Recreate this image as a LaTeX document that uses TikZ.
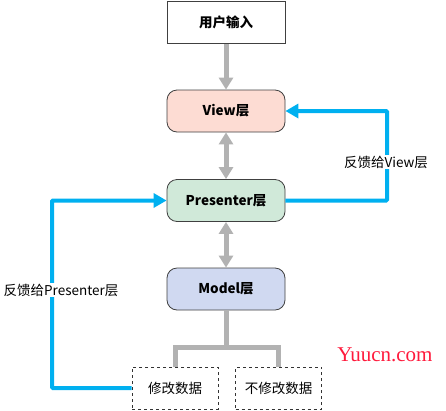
\documentclass[tikz,border=0pt]{standalone}
\usepackage{fontspec}
\setmainfont{Noto Sans CJK SC}
\newfontfamily\markfont{Liberation Serif}
\usetikzlibrary{arrows.meta}
\definecolor{viewfill}{HTML}{FDDCD3}
\definecolor{presfill}{HTML}{D0E9D9}
\definecolor{modelfill}{HTML}{D0D9F1}
\definecolor{linegray}{HTML}{B2B2B2}
\definecolor{feedblue}{HTML}{00B0F0}
\definecolor{edgegray}{HTML}{404040}
\definecolor{markred}{HTML}{FF1A3C}

\begin{document}
\begin{tikzpicture}[x=1pt, y=-1pt]

\tikzstyle{inputbox}=[rectangle, minimum width = 118pt, minimum height = 42pt, thick, draw = edgegray, fill=white, font=\fontsize{13.5}{16}\selectfont\bfseries]
\tikzstyle{layer}=[rectangle, rounded corners=10pt, minimum width = 118pt, minimum height = 42pt, thick, draw = edgegray, font=\fontsize{13.5}{16}\selectfont\bfseries]
\tikzstyle{datum}=[rectangle, minimum width = 86pt, minimum height = 42pt, thick, dashed, draw = black!80, fill=white, font=\fontsize{13.5}{16}\selectfont]
\tikzstyle{feedlabel}=[fill=white, inner sep=1pt, font=\fontsize{13.5}{16}\selectfont]

\tikzstyle{flow}=[-{Triangle[width=14pt,length=12pt,fill=linegray]}, line width=5pt, draw=linegray]
\tikzstyle{both}=[{Triangle[width=14pt,length=12pt,fill=linegray]}-{Triangle[width=14pt,length=12pt,fill=linegray]}, line width=5pt, draw=linegray]
\tikzstyle{tree}=[line width=5pt, draw=linegray]
\tikzstyle{feed}=[-{Triangle[width=14pt,length=13pt]}, line width=4pt, draw=feedblue, rounded corners=1pt]

\useasboundingbox (0,0) rectangle (446,410);

\node[inputbox] (input) at (226,22.5)  {用户输入};
\node[layer, fill=viewfill] (view) at (226,111)  {View层};
\node[layer, fill=presfill] (presenter) at (226,200.5)  {Presenter层};
\node[layer, fill=modelfill] (model) at (226,289)  {Model层};

\node[datum] (edit) at (175,388)  {修改数据};
\node[datum] (noedit) at (278.5,388)  {不修改数据};

\coordinate (split) at (226,347);
\coordinate (rcorner) at (387,200.5);
\coordinate (rtop) at (387,111);
\coordinate (lcorner) at (52,388);
\coordinate (ltop) at (52,200.5);

\draw[flow] (input) -- (view);
\draw[both] (view) -- (presenter);
\draw[both] (presenter) -- (model);

\draw[tree] (model.south) -- (split) -| (edit.north);
\draw[tree] (split) -| (noedit.north);

\draw[feed] (presenter.east) -- (rcorner) -- (rtop) -- (view.east);
\draw[feed] (edit.west) -- (lcorner) -- (ltop) -- (presenter.west);

\node[feedlabel] (toview) at (386,162)  {反馈给View层};
\node[feedlabel] (topres) at (61,290)  {反馈给Presenter层};

\node[text=markred, font=\markfont\fontsize{21}{23}\selectfont] (mark) at (385,355)  {Yuucn.com};

\end{tikzpicture}
\end{document}
